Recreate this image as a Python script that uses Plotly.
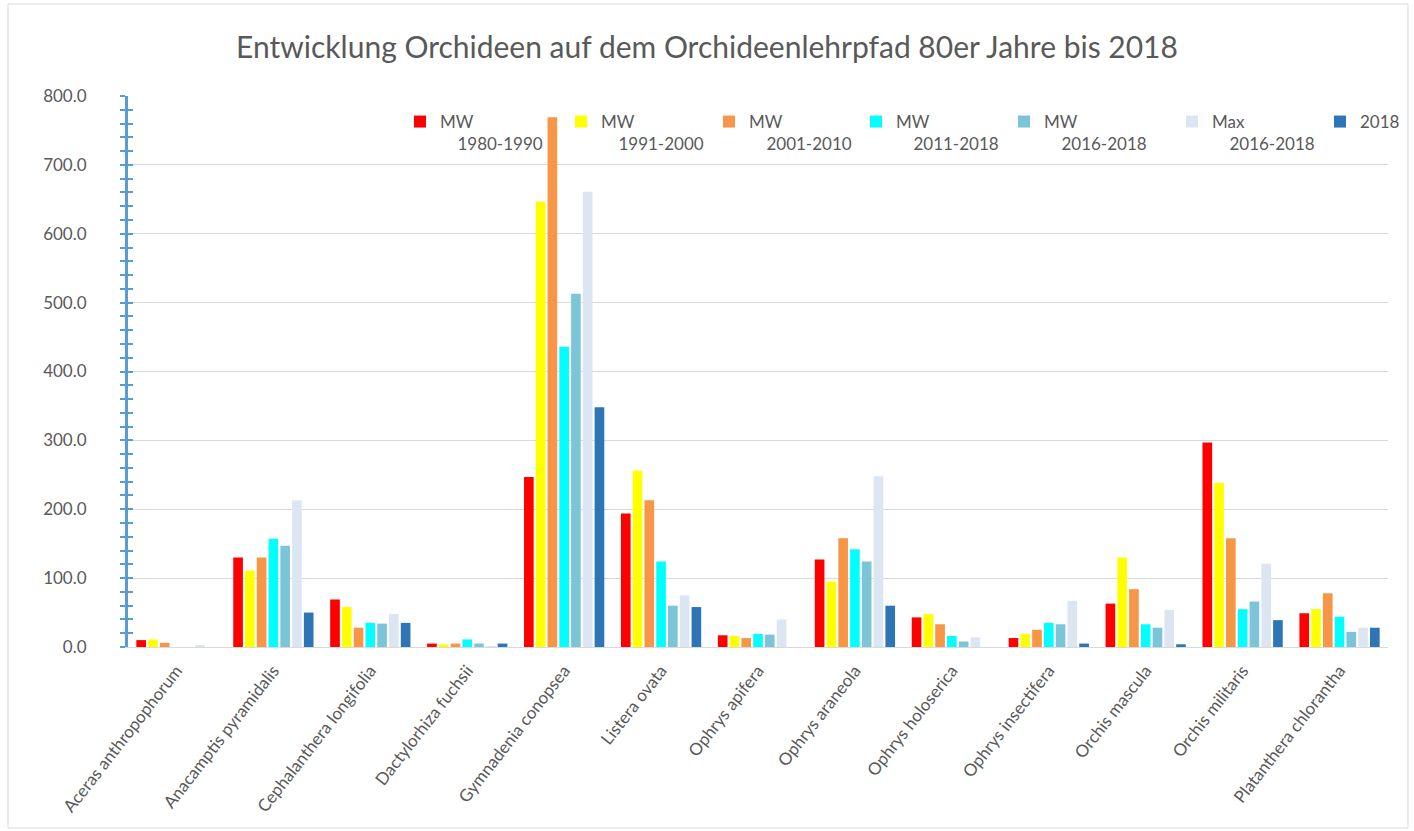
import plotly.graph_objects as go

categories = ["Aceras anthropophorum", "Anacamptis pyramidalis", "Cephalanthera longifolia",
              "Dactylorhiza fuchsii", "Gymnadenia conopsea", "Listera ovata", "Ophrys apifera",
              "Ophrys araneola", "Ophrys holoserica", "Ophrys insectifera", "Orchis mascula",
              "Orchis militaris", "Platanthera chlorantha"]

mw_1980_1990 = [10, 130, 69, 5, 247, 194, 17, 127, 43, 13, 63, 297, 49]
mw_1991_2000 = [11, 111, 58, 4, 647, 256, 16, 95, 48, 19, 130, 238, 55]
mw_2001_2010 = [6, 130, 28, 5, 769, 213, 13, 158, 33, 25, 84, 158, 78]
mw_2011_2018 = [0, 157, 35, 11, 436, 124, 19, 142, 16, 35, 33, 55, 44]
mw_2016_2018 = [0, 147, 34, 5, 513, 60, 18, 124, 8, 33, 28, 66, 22]
max_2016_2018 = [2, 213, 48, 1, 661, 75, 40, 248, 14, 67, 54, 121, 28]
val_2018 = [0, 50, 35, 5, 348, 58, 0, 60, 0, 5, 4, 39, 28]

nb = "\u00a0\u00a0\u00a0\u00a0"
series_names = ["MW<br>" + nb + "1980-1990", "MW<br>" + nb + "1991-2000",
                "MW<br>" + nb + "2001-2010", "MW<br>" + nb + "2011-2018",
                "MW<br>" + nb + "2016-2018", "Max<br>" + nb + "2016-2018", "2018"]
series_values = [mw_1980_1990, mw_1991_2000, mw_2001_2010, mw_2011_2018, mw_2016_2018, max_2016_2018, val_2018]
colors = ["#ff0000", "#ffff00", "#f79646", "#00ffff", "#7cc5d9", "#dce6f2", "#2e75b6"]

# legend text start positions (pixels) from the reference
legend_text_px = [440, 601, 749, 896, 1044, 1212, 1360]

font = "Lato, 'Open Sans', sans-serif"
gray = "#595959"
axis_blue = "#5b9bd5"

L, R, T, B = 128, 26, 96, 184
PW = 1414 - L - R
PH = 831 - T - B

fig = go.Figure()
legend_layouts = {}
for i, (name, vals, col) in enumerate(zip(series_names, series_values, colors)):
    lname = "legend" if i == 0 else f"legend{i+1}"
    fig.add_trace(go.Bar(x=categories, y=vals, name=name, marker_color=col,
                         marker_line_width=0, legend=lname))
    legend_layouts[lname] = dict(
        x=(legend_text_px[i] - 40 - L) / PW, y=(T + PH - 104) / PH,
        xanchor="left", yanchor="top", bgcolor="rgba(0,0,0,0)",
        valign="top", font=dict(family=font, size=17, color=gray))

# helper trace so the overlaying axis (inner tick marks) gets drawn
fig.add_trace(go.Scatter(x=[categories[0]], y=[None], yaxis="y2", showlegend=False,
                         hoverinfo="skip", mode="lines"))

fig.update_layout(
    width=1414, height=831,
    paper_bgcolor="white", plot_bgcolor="white",
    margin=dict(l=L, r=R, t=T, b=B, autoexpand=False),
    barmode="group", bargap=0.15, bargroupgap=0.18,
    title=dict(text="Entwicklung Orchideen auf dem Orchideenlehrpfad 80er Jahre bis 2018",
               x=0.5, xref="container", xanchor="center", y=1 - 47 / 831, yanchor="middle",
               font=dict(family=font, size=30, color=gray)),
    font=dict(family=font, size=15, color=gray),
    xaxis=dict(tickangle=-52, showline=True, linecolor="#d9d9d9", linewidth=1,
               range=[-0.5, len(categories) - 0.5],
               ticks="", ticklabelstandoff=6, automargin=False,
               tickfont=dict(family=font, size=17, color=gray)),
    yaxis=dict(range=[0, 800], dtick=100, tickformat=".1f", showgrid=True, gridcolor="#d9d9d9",
               gridwidth=1, showline=True, linecolor=axis_blue, linewidth=3,
               ticks="outside", ticklen=5, tickwidth=2, tickcolor=axis_blue,
               ticklabelstandoff=30, automargin=False,
               minor=dict(dtick=20, ticks="outside", ticklen=5, tickwidth=2, tickcolor=axis_blue, showgrid=False),
               zeroline=False, tickfont=dict(family=font, size=17, color=gray)),
    yaxis2=dict(range=[0, 800], overlaying="y", side="left", dtick=100, showgrid=False,
                showticklabels=False, ticks="inside", ticklen=5, tickwidth=2, tickcolor=axis_blue,
                minor=dict(dtick=20, ticks="inside", ticklen=5, tickwidth=2, tickcolor=axis_blue),
                showline=False, zeroline=False, automargin=False),
    showlegend=True,
    **legend_layouts,
)

fig.add_shape(type="rect", xref="paper", yref="paper",
              x0=(8 - L) / PW, x1=(1408 - L) / PW,
              y0=(T + PH - 828) / PH, y1=(T + PH - 4) / PH,
              line=dict(color="#d9d9d9", width=1), fillcolor="rgba(0,0,0,0)", layer="below")

fig.write_html("out.html")
